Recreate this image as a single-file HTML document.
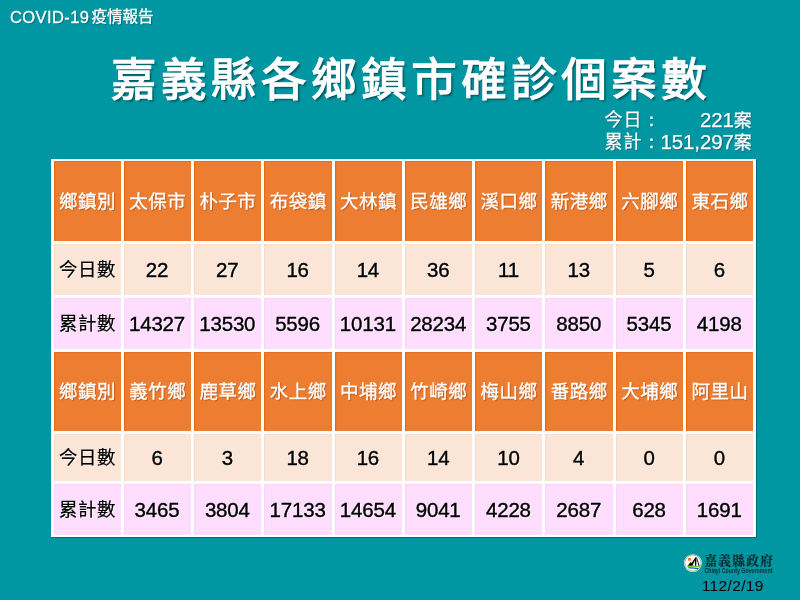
<!DOCTYPE html>
<html lang="zh-Hant">
<head>
<meta charset="utf-8">
<title>COVID-19 疫情報告</title>
<style>
html,body{margin:0;padding:0;}
body{width:800px;height:600px;overflow:hidden;background:#0097A2;position:relative;font-family:"Liberation Sans","Noto Sans CJK TC",sans-serif;}
.abs{position:absolute;white-space:nowrap;}
#hdr{left:10px;top:6.3px;font-size:15.5px;line-height:22px;color:#fff;-webkit-text-stroke:0.3px #fff;text-shadow:1px 1px 1px rgba(0,70,80,.6);}
#hdr .lat{font-size:16.5px;letter-spacing:0.4px;}
#hdr .cj{position:absolute;left:81.6px;top:0;}
#title{left:110.9px;top:45.1px;font-size:45.5px;line-height:72px;font-weight:normal;-webkit-text-stroke:1.3px #fff;color:#fff;letter-spacing:4.54px;text-shadow:2px 2px 2px rgba(0,60,70,.75);}
.stat{right:48.5px;font-size:18px;line-height:22px;color:#fff;-webkit-text-stroke:0.25px #fff;text-shadow:1px 1px 1px rgba(0,70,80,.6);width:147px;}
.stat .l{position:absolute;left:0px;top:0.3px;letter-spacing:1px;}
.stat .l i{font-style:normal;font-family:"WenQuanYi Zen Hei","Noto Sans CJK TC",sans-serif;}
.stat .r{position:absolute;right:0;top:0;font-size:20.5px;letter-spacing:-0.15px;}
.stat .r b{font-weight:normal;font-size:18px;}
#tbl{left:51px;top:159px;width:705.1px;height:378.1px;background:#fff;box-shadow:0.8px 0.8px 0.5px rgba(0,75,90,.55);}
.c{position:absolute;display:flex;align-items:center;justify-content:center;font-size:18.5px;white-space:nowrap;}
.c span{letter-spacing:.5px;margin-right:-.5px;position:relative;top:-1px;}
.c.h{background:#ED7D31;box-shadow:inset 1.2px 0.8px 0 #E8690F;color:#fff;text-shadow:1px 1px 1px rgba(150,60,0,.6);-webkit-text-stroke:0.3px #fff;}
.c.a{background:#FBE5D6;box-shadow:inset 1px 0.8px 0 #F9DAC6;color:#000;-webkit-text-stroke:0.2px #000;text-shadow:1px 1px 0.5px rgba(255,255,255,.85);}
.c.b{background:#FFDDFF;box-shadow:inset 1px 0.8px 0 #FBD2FB;color:#000;-webkit-text-stroke:0.2px #000;text-shadow:1px 1px 0.5px rgba(255,255,255,.85);}
.c.n span{font-size:20.5px;letter-spacing:-0.2px;margin-right:0.2px;top:0.5px;left:-0.3px;-webkit-text-stroke:0.38px #000;}
#logo{left:683px;top:553px;}
#gov{left:704.2px;top:550.6px;font-family:"Noto Serif CJK TC","Noto Serif CJK SC",serif;font-weight:bold;font-size:12.6px;line-height:18px;letter-spacing:1.4px;color:#0c2a30;-webkit-text-stroke:0.2px #0c2a30;}
#date{left:701.8px;top:576.7px;font-size:15.5px;line-height:18px;color:#000;letter-spacing:0.35px;}
</style>
</head>
<body>
<div id="hdr" class="abs"><span class="lat">COVID-19</span> <span class="cj">疫情報告</span></div>
<div id="title" class="abs">嘉義縣各鄉鎮市確診個案數</div>
<div class="abs stat" style="top:108.9px;height:22px"><span class="l">今日<i>：</i></span><span class="r">221<b>案</b></span></div>
<div class="abs stat" style="top:130.9px;height:22px"><span class="l">累計<i>：</i></span><span class="r">151,297<b>案</b></span></div>
<div id="tbl" class="abs"></div>
<div class="c h" style="left:53.50px;top:161.30px;width:67.30px;height:80.00px"><span>鄉鎮別</span></div>
<div class="c h" style="left:123.78px;top:161.30px;width:67.30px;height:80.00px"><span>太保市</span></div>
<div class="c h" style="left:194.06px;top:161.30px;width:67.30px;height:80.00px"><span>朴子市</span></div>
<div class="c h" style="left:264.34px;top:161.30px;width:67.30px;height:80.00px"><span>布袋鎮</span></div>
<div class="c h" style="left:334.62px;top:161.30px;width:67.30px;height:80.00px"><span>大林鎮</span></div>
<div class="c h" style="left:404.90px;top:161.30px;width:67.30px;height:80.00px"><span>民雄鄉</span></div>
<div class="c h" style="left:475.18px;top:161.30px;width:67.30px;height:80.00px"><span>溪口鄉</span></div>
<div class="c h" style="left:545.46px;top:161.30px;width:67.30px;height:80.00px"><span>新港鄉</span></div>
<div class="c h" style="left:615.74px;top:161.30px;width:67.30px;height:80.00px"><span>六腳鄉</span></div>
<div class="c h" style="left:686.02px;top:161.30px;width:67.30px;height:80.00px"><span>東石鄉</span></div>
<div class="c a" style="left:53.50px;top:243.70px;width:67.30px;height:51.30px"><span>今日數</span></div>
<div class="c a n" style="left:123.78px;top:243.70px;width:67.30px;height:51.30px"><span>22</span></div>
<div class="c a n" style="left:194.06px;top:243.70px;width:67.30px;height:51.30px"><span>27</span></div>
<div class="c a n" style="left:264.34px;top:243.70px;width:67.30px;height:51.30px"><span>16</span></div>
<div class="c a n" style="left:334.62px;top:243.70px;width:67.30px;height:51.30px"><span>14</span></div>
<div class="c a n" style="left:404.90px;top:243.70px;width:67.30px;height:51.30px"><span>36</span></div>
<div class="c a n" style="left:475.18px;top:243.70px;width:67.30px;height:51.30px"><span>11</span></div>
<div class="c a n" style="left:545.46px;top:243.70px;width:67.30px;height:51.30px"><span>13</span></div>
<div class="c a n" style="left:615.74px;top:243.70px;width:67.30px;height:51.30px"><span>5</span></div>
<div class="c a n" style="left:686.02px;top:243.70px;width:67.30px;height:51.30px"><span>6</span></div>
<div class="c b" style="left:53.50px;top:297.50px;width:67.30px;height:51.70px"><span>累計數</span></div>
<div class="c b n" style="left:123.78px;top:297.50px;width:67.30px;height:51.70px"><span>14327</span></div>
<div class="c b n" style="left:194.06px;top:297.50px;width:67.30px;height:51.70px"><span>13530</span></div>
<div class="c b n" style="left:264.34px;top:297.50px;width:67.30px;height:51.70px"><span>5596</span></div>
<div class="c b n" style="left:334.62px;top:297.50px;width:67.30px;height:51.70px"><span>10131</span></div>
<div class="c b n" style="left:404.90px;top:297.50px;width:67.30px;height:51.70px"><span>28234</span></div>
<div class="c b n" style="left:475.18px;top:297.50px;width:67.30px;height:51.70px"><span>3755</span></div>
<div class="c b n" style="left:545.46px;top:297.50px;width:67.30px;height:51.70px"><span>8850</span></div>
<div class="c b n" style="left:615.74px;top:297.50px;width:67.30px;height:51.70px"><span>5345</span></div>
<div class="c b n" style="left:686.02px;top:297.50px;width:67.30px;height:51.70px"><span>4198</span></div>
<div class="c h" style="left:53.50px;top:351.70px;width:67.30px;height:79.50px"><span>鄉鎮別</span></div>
<div class="c h" style="left:123.78px;top:351.70px;width:67.30px;height:79.50px"><span>義竹鄉</span></div>
<div class="c h" style="left:194.06px;top:351.70px;width:67.30px;height:79.50px"><span>鹿草鄉</span></div>
<div class="c h" style="left:264.34px;top:351.70px;width:67.30px;height:79.50px"><span>水上鄉</span></div>
<div class="c h" style="left:334.62px;top:351.70px;width:67.30px;height:79.50px"><span>中埔鄉</span></div>
<div class="c h" style="left:404.90px;top:351.70px;width:67.30px;height:79.50px"><span>竹崎鄉</span></div>
<div class="c h" style="left:475.18px;top:351.70px;width:67.30px;height:79.50px"><span>梅山鄉</span></div>
<div class="c h" style="left:545.46px;top:351.70px;width:67.30px;height:79.50px"><span>番路鄉</span></div>
<div class="c h" style="left:615.74px;top:351.70px;width:67.30px;height:79.50px"><span>大埔鄉</span></div>
<div class="c h" style="left:686.02px;top:351.70px;width:67.30px;height:79.50px"><span>阿里山</span></div>
<div class="c a" style="left:53.50px;top:433.80px;width:67.30px;height:47.40px"><span>今日數</span></div>
<div class="c a n" style="left:123.78px;top:433.80px;width:67.30px;height:47.40px"><span>6</span></div>
<div class="c a n" style="left:194.06px;top:433.80px;width:67.30px;height:47.40px"><span>3</span></div>
<div class="c a n" style="left:264.34px;top:433.80px;width:67.30px;height:47.40px"><span>18</span></div>
<div class="c a n" style="left:334.62px;top:433.80px;width:67.30px;height:47.40px"><span>16</span></div>
<div class="c a n" style="left:404.90px;top:433.80px;width:67.30px;height:47.40px"><span>14</span></div>
<div class="c a n" style="left:475.18px;top:433.80px;width:67.30px;height:47.40px"><span>10</span></div>
<div class="c a n" style="left:545.46px;top:433.80px;width:67.30px;height:47.40px"><span>4</span></div>
<div class="c a n" style="left:615.74px;top:433.80px;width:67.30px;height:47.40px"><span>0</span></div>
<div class="c a n" style="left:686.02px;top:433.80px;width:67.30px;height:47.40px"><span>0</span></div>
<div class="c b" style="left:53.50px;top:483.70px;width:67.30px;height:51.00px"><span>累計數</span></div>
<div class="c b n" style="left:123.78px;top:483.70px;width:67.30px;height:51.00px"><span>3465</span></div>
<div class="c b n" style="left:194.06px;top:483.70px;width:67.30px;height:51.00px"><span>3804</span></div>
<div class="c b n" style="left:264.34px;top:483.70px;width:67.30px;height:51.00px"><span>17133</span></div>
<div class="c b n" style="left:334.62px;top:483.70px;width:67.30px;height:51.00px"><span>14654</span></div>
<div class="c b n" style="left:404.90px;top:483.70px;width:67.30px;height:51.00px"><span>9041</span></div>
<div class="c b n" style="left:475.18px;top:483.70px;width:67.30px;height:51.00px"><span>4228</span></div>
<div class="c b n" style="left:545.46px;top:483.70px;width:67.30px;height:51.00px"><span>2687</span></div>
<div class="c b n" style="left:615.74px;top:483.70px;width:67.30px;height:51.00px"><span>628</span></div>
<div class="c b n" style="left:686.02px;top:483.70px;width:67.30px;height:51.00px"><span>1691</span></div>
<svg id="logo" class="abs" width="20" height="20" viewBox="0 0 20 20">
<circle cx="9.9" cy="10.1" r="8.9" fill="#fff"/>
<circle cx="9.9" cy="10.1" r="8.15" fill="none" stroke="#809c58" stroke-width="0.7"/>
<rect x="4.9" y="4.8" width="3.2" height="3" rx="1.1" fill="#ff7a00"/>
<path d="M4.8 12.9 L7.27 9.35 L8.79 9.87 L12.47 4.15 L13.6 4.37 L13.2 12.9 L12.0 12.9 L11.9 7.6 L9.9 11.5 L9.8 12.9 Z" fill="#080808"/>
<path d="M13.9 4.6 L15.1 8.05 L16.6 12.9 L15.5 12.9 L14.5 8.92 L13.7 6.4 Z" fill="#080808"/>
<path d="M4.0 12.8 Q10 12.3 17.2 12.9 L16.8 14.2 Q10 13.7 4.4 14.2 Z" fill="#70cf48"/>
<path d="M4.9 14.3 Q10 13.9 15.8 15.1 L15.1 16.4 Q10 15.3 5.7 15.6 Z" fill="#1a5cc2"/>
</svg>
<div id="gov" class="abs">嘉義縣政府</div>
<svg class="abs" style="left:703px;top:566px" width="72" height="10" viewBox="0 0 72 10"><text x="1.4" y="7.2" font-family="Liberation Sans, sans-serif" font-size="6.6" font-weight="bold" fill="#0c2a30" textLength="68" lengthAdjust="spacingAndGlyphs">Chiayi County Government</text></svg>
<div id="date" class="abs">112/2/19</div>
</body>
</html>
